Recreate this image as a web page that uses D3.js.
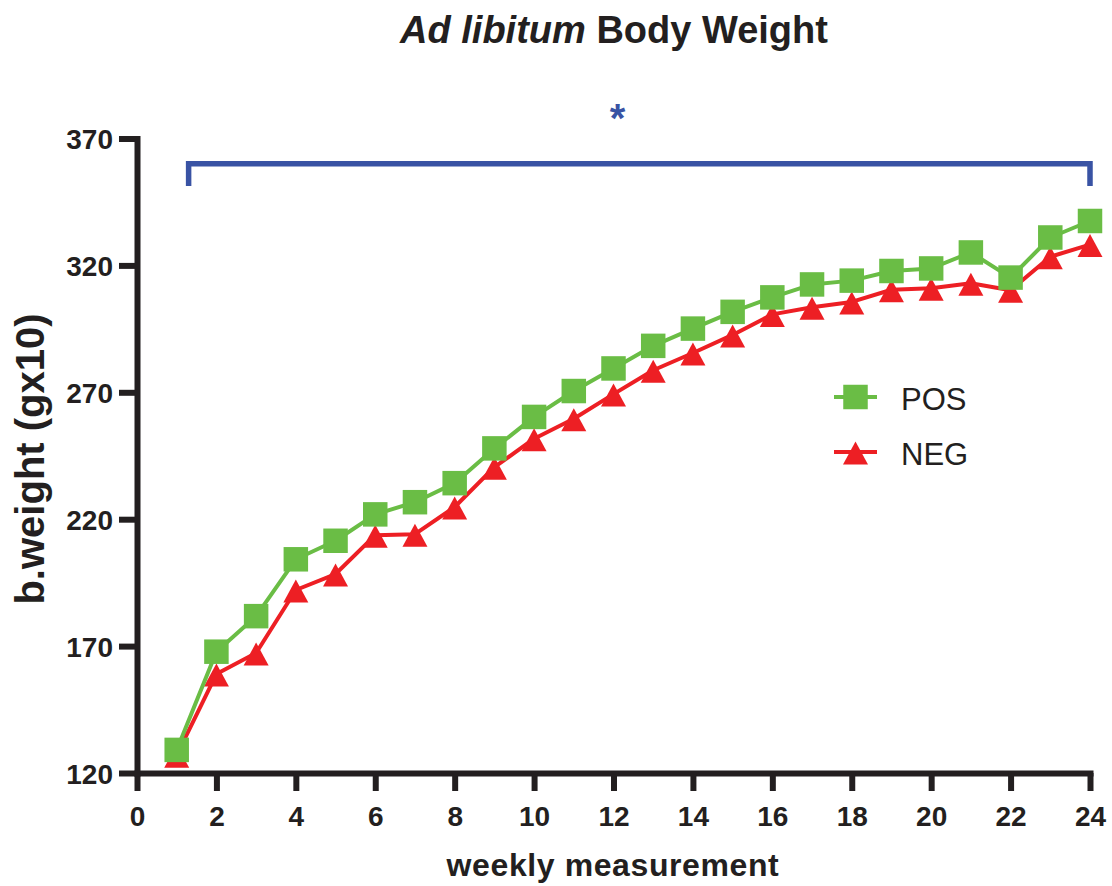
<!DOCTYPE html>
<html>
<head>
<meta charset="utf-8">
<script src="https://cdn.jsdelivr.net/npm/d3@7"></script>
<style>
  body { margin: 0; background: #fff; }
  text { font-family: "Liberation Sans", Arial, Helvetica, sans-serif; fill: #231f20; }
</style>
</head>
<body>
<div id="my_dataviz"></div>
<script>
// data
const weeks = d3.range(1, 25);
const pos = [129.1, 167.8, 181.8, 204.2, 211.5, 221.9, 226.7, 234.2, 247.9, 260.3, 270.5, 279.4,
             288.3, 295.1, 301.7, 307.4, 312.5, 314.0, 317.8, 318.8, 325.1, 315.2, 331.0, 337.5];
const neg = [127.0, 159.0, 167.3, 192.1, 198.4, 213.7, 214.1, 224.8, 240.5, 251.7, 259.6, 269.3,
             278.7, 285.5, 292.6, 300.7, 303.5, 305.6, 310.4, 311.0, 313.0, 310.2, 323.4, 328.2];
const xTicks = d3.range(0, 25, 2);
const yTicks = [120, 170, 220, 270, 320, 370];
// significance bracket (x from, x to; y top, y of the legs) and star
const bracketX = [1.3, 24];
const bracketY = [360.1, 351.3];
const star = { x: 12.1, y: 380.7, label: "*" };

const green = "#6abd45", red = "#ed1f24", blue = "#3953a4", ink = "#231f20";

// set the dimensions and margins of the graph
const margin = { top: 138.5, right: 22, bottom: 113, left: 137 },
  width = 1112 - margin.left - margin.right,
  height = 886 - margin.top - margin.bottom;

const root = d3.select("#my_dataviz")
  .append("svg")
  .attr("width", 1112)
  .attr("height", 886);

const svg = root.append("g")
  .attr("transform", `translate(${margin.left},${margin.top})`);

const x = d3.scaleLinear().domain([0, 24]).range([0, width]);
const y = d3.scaleLinear().domain([120, 370]).range([height, 0]);

// X axis
const gx = svg.append("g")
  .attr("transform", `translate(0, ${height})`)
  .call(d3.axisBottom(x).tickValues(xTicks).tickSize(18).tickSizeOuter(0).tickPadding(15));
gx.selectAll("text").style("font-size", "28px").style("font-weight", "bold").attr("fill", ink);

// Y axis
const gy = svg.append("g")
  .call(d3.axisLeft(y).tickValues(yTicks).tickSize(18).tickSizeOuter(0).tickPadding(6));
gy.selectAll("text").style("font-size", "28px").style("font-weight", "bold").attr("fill", ink)
  .attr("dy", "0.37em");

[gx, gy].forEach(g => {
  g.select(".domain").attr("stroke", ink).attr("stroke-width", 6).attr("stroke-linecap", "square");
  g.selectAll(".tick line").attr("stroke", ink).attr("stroke-width", 6);
});

// triangle with its box centred on the point
const tri = "M0,-10.5L12.5,12.5L-12.5,12.5Z";
const sq = d3.symbol().type(d3.symbolSquare).size(24.5 * 24.5)();

const line = d3.line().x((d, i) => x(weeks[i])).y(d => y(d));

function drawSeries(vals, color, marker) {
  svg.append("path")
    .datum(vals)
    .attr("d", line)
    .attr("fill", "none")
    .attr("stroke", color)
    .attr("stroke-width", 4)
    .attr("stroke-linejoin", "round");
  svg.selectAll(null)
    .data(vals)
    .join("path")
    .attr("d", marker)
    .attr("transform", (d, i) => `translate(${x(weeks[i])},${y(d)})`)
    .attr("fill", color);
}
drawSeries(neg, red, tri);
drawSeries(pos, green, sq);

// significance bracket
svg.append("path")
  .attr("d", `M${x(bracketX[0])},${y(bracketY[1])}V${y(bracketY[0])}H${x(bracketX[1])}V${y(bracketY[1])}`)
  .attr("fill", "none")
  .attr("stroke", blue)
  .attr("stroke-width", 5.5);
svg.append("text")
  .attr("x", x(star.x))
  .attr("y", y(star.y) + 21)
  .attr("text-anchor", "middle")
  .style("font-size", "40px")
  .style("font-weight", "bold")
  .style("fill", blue)
  .text(star.label);

// legend
const legend = [
  { name: "POS", color: green, marker: sq, y: 397 },
  { name: "NEG", color: red, marker: tri, y: 452 }
];
const lg = root.append("g");
legend.forEach(d => {
  lg.append("line").attr("x1", 834).attr("x2", 877).attr("y1", d.y).attr("y2", d.y)
    .attr("stroke", d.color).attr("stroke-width", 4);
  lg.append("path").attr("d", d.marker).attr("transform", `translate(855.5,${d.y})`).attr("fill", d.color);
  lg.append("text").attr("x", 901).attr("y", d.y + 13).style("font-size", "31px").text(d.name);
});

// title
const title = root.append("text")
  .attr("x", 614)
  .attr("y", 43)
  .attr("text-anchor", "middle")
  .style("font-size", "38px")
  .style("font-weight", "bold");
title.append("tspan").style("font-style", "italic").text("Ad libitum");
title.append("tspan").text(" Body Weight");

// axis titles
root.append("text")
  .attr("x", 613)
  .attr("y", 876)
  .attr("text-anchor", "middle")
  .style("font-size", "32px")
  .style("font-weight", "bold")
  .style("letter-spacing", "0.6px")
  .text("weekly measurement");

root.append("text")
  .attr("transform", "translate(44,459)rotate(-90)")
  .attr("text-anchor", "middle")
  .style("font-size", "40px")
  .style("font-weight", "bold")
  .text("b.weight (gx10)");
</script>
</body>
</html>
